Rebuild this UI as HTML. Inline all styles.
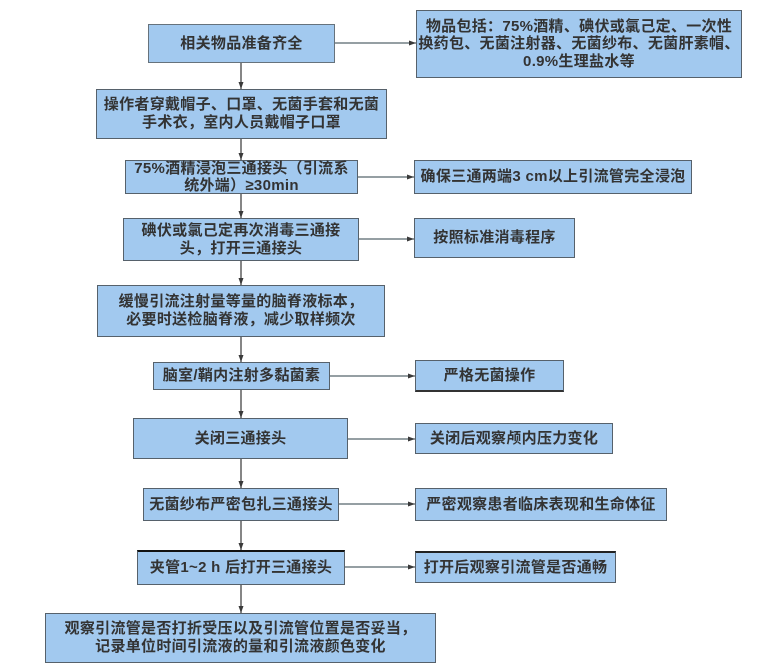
<!DOCTYPE html>
<html>
<head>
<meta charset="utf-8">
<style>
  html,body{margin:0;padding:0;background:#fff;}
  body{width:770px;height:669px;position:relative;overflow:hidden;
    font-family:"Liberation Sans","Noto Sans CJK SC",sans-serif;}
  .b{position:absolute;box-sizing:border-box;background:#a2c9ef;border:1.5px solid #56616b;
    display:flex;align-items:center;justify-content:center;text-align:center;
    font-size:15px;font-weight:700;color:#333;line-height:18px;letter-spacing:0.3px;white-space:nowrap;}
  svg{position:absolute;left:0;top:0;}
</style>
</head>
<body>
<svg width="770" height="669" viewBox="0 0 770 669">
  <defs>
    <marker id="a" markerWidth="8" markerHeight="8" refX="7" refY="4" orient="auto" markerUnits="userSpaceOnUse">
      <path d="M0,1.5 L7,4 L0,6.5 Z" fill="#3a3a3a"/>
    </marker>
  </defs>
  <g stroke="#444" stroke-width="1.3" fill="none" marker-end="url(#a)">
    <line x1="241" y1="63" x2="241" y2="89"/>
    <line x1="241" y1="139" x2="241" y2="160"/>
    <line x1="241" y1="194" x2="241" y2="218"/>
    <line x1="241" y1="261" x2="241" y2="285"/>
    <line x1="241" y1="337" x2="241" y2="362"/>
    <line x1="241" y1="390" x2="241" y2="418"/>
    <line x1="241" y1="459" x2="241" y2="488"/>
    <line x1="241" y1="521" x2="241" y2="550"/>
    <line x1="241" y1="585" x2="241" y2="613"/>
  </g>
  <g stroke="#56666c" stroke-width="1.3" fill="none" marker-end="url(#a)">
    <line x1="335" y1="43" x2="416" y2="43"/>
    <line x1="358" y1="177" x2="414" y2="177"/>
    <line x1="359" y1="239" x2="414" y2="239"/>
    <line x1="330" y1="376" x2="415" y2="376"/>
    <line x1="348" y1="439" x2="415" y2="439"/>
    <line x1="339" y1="504" x2="415" y2="504"/>
    <line x1="345" y1="567" x2="415" y2="567"/>
  </g>
</svg>

<div class="b" style="left:148px;top:24px;width:187px;height:39px;border-color:#66727c;">相关物品准备齐全</div>
<div class="b" style="left:96px;top:89px;width:291px;height:50px;">操作者穿戴帽子、口罩、无菌手套和无菌<br>手术衣，室内人员戴帽子口罩</div>
<div class="b" style="left:125px;top:160px;width:233px;height:34px;line-height:17px;">75%酒精浸泡三通接头（引流系<br>统外端）≥30min</div>
<div class="b" style="left:123px;top:218px;width:236px;height:43px;">碘伏或氯己定再次消毒三通接<br>头，打开三通接头</div>
<div class="b" style="left:97px;top:285px;width:288px;height:52px;">缓慢引流注射量等量的脑脊液标本，<br>必要时送检脑脊液，减少取样频次</div>
<div class="b" style="left:153px;top:362px;width:177px;height:28px;">脑室/鞘内注射多黏菌素</div>
<div class="b" style="left:133px;top:418px;width:215px;height:41px;">关闭三通接头</div>
<div class="b" style="left:143px;top:488px;width:196px;height:33px;">无菌纱布严密包扎三通接头</div>
<div class="b" style="left:137px;top:550px;width:208px;height:35px;border-top:2px solid #111;">夹管1~2 h 后打开三通接头</div>
<div class="b" style="left:45px;top:613px;width:391px;height:50px;">观察引流管是否打折受压以及引流管位置是否妥当，<br>记录单位时间引流液的量和引流液颜色变化</div>

<div class="b" style="left:416px;top:10px;width:326px;height:68px;line-height:17.5px;">物品包括：75%酒精、碘伏或氯己定、一次性<br>换药包、无菌注射器、无菌纱布、无菌肝素帽、<br>0.9%生理盐水等</div>
<div class="b" style="left:414px;top:160px;width:278px;height:34px;">确保三通两端3 cm以上引流管完全浸泡</div>
<div class="b" style="left:414px;top:218px;width:161px;height:40px;">按照标准消毒程序</div>
<div class="b" style="left:415px;top:360px;width:149px;height:32px;border-bottom:2.5px solid #333;">严格无菌操作</div>
<div class="b" style="left:415px;top:423px;width:198px;height:31px;">关闭后观察颅内压力变化</div>
<div class="b" style="left:415px;top:488px;width:252px;height:33px;">严密观察患者临床表现和生命体征</div>
<div class="b" style="left:415px;top:551px;width:201px;height:32px;border-top:2px solid #222;">打开后观察引流管是否通畅</div>
</body>
</html>
